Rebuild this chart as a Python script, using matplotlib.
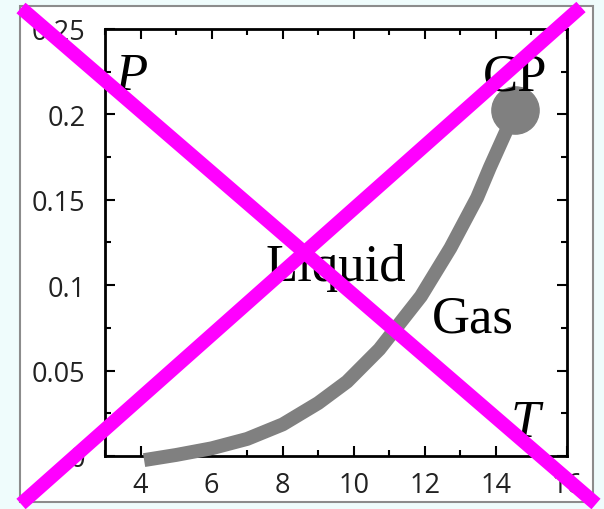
import matplotlib.pyplot as plt
from matplotlib.patches import Rectangle
from matplotlib.lines import Line2D
from matplotlib.ticker import MultipleLocator

# coexistence curve (temperature, pressure) ending at the critical point
temps = [4.1, 5.0, 6.0, 7.0, 8.0, 9.0, 9.81, 10.72, 11.89, 12.72, 13.47,
         13.83, 14.31, 14.53]
pressures = [-0.0024, 0.0006, 0.0045, 0.0100, 0.0185, 0.0310, 0.0435, 0.0625,
             0.0935, 0.1218, 0.1512, 0.1690, 0.1912, 0.2024]
cp = (14.53, 0.2024)

x_ticks = [4, 6, 8, 10, 12, 14, 16]
y_ticks = [0, 0.05, 0.1, 0.15, 0.2, 0.25]
y_labels = ['0', '0.05', '0.1', '0.15', '0.2', '0.25']

fig = plt.figure(figsize=(6.04, 5.10), dpi=100, facecolor='#effcfc')

# white panel with a grey frame, kept behind the axes
fig.patches.append(Rectangle((20 / 604, 1 - 503 / 510), 573 / 604, 496 / 510,
                             transform=fig.transFigure, facecolor='white',
                             edgecolor='#8c8c8c', linewidth=1.5, zorder=-5))

ax = fig.add_axes([105 / 604, 1 - 457 / 510, 462 / 604, 427 / 510])
ax.set_xlim(3, 16)
ax.set_ylim(0, 0.25)
ax.patch.set_alpha(0)

ax.plot(temps, pressures, color='#808080', lw=10, solid_capstyle='butt',
        solid_joinstyle='round', clip_on=False, zorder=3)
ax.plot([cp[0]], [cp[1]], 'o', color='#808080', markersize=34, zorder=4,
        clip_on=False)

ax.set_xticks(x_ticks)
ax.set_yticks(y_ticks)
ax.set_yticklabels(y_labels)
ax.xaxis.set_minor_locator(MultipleLocator(1))
ax.yaxis.set_minor_locator(MultipleLocator(0.025))
for side in ax.spines.values():
    side.set_linewidth(2)
ax.tick_params(which='both', direction='in', top=True, right=True,
               width=1.5, labelsize=19.5, labelcolor='#222222')
ax.tick_params(which='major', length=7)
ax.tick_params(which='minor', length=4)
ax.tick_params(axis='y', pad=14)
ax.tick_params(axis='x', pad=11)
for lab in ax.get_xticklabels() + ax.get_yticklabels():
    lab.set_family('Open Sans')

serif = 'Liberation Serif'
ax.text(3.75, 0.2147, 'P', fontsize=38, family=serif, style='italic',
        ha='center', va='baseline')
ax.text(14.55, 0.2147, 'CP', fontsize=38, family=serif, ha='center',
        va='baseline', zorder=5)
ax.text(9.5, 0.103, 'Liquid', fontsize=38, family=serif, ha='center',
        va='baseline')
ax.text(13.35, 0.073, 'Gas', fontsize=38, family=serif, ha='center',
        va='baseline')
ax.text(14.83, 0.0118, 'T', fontsize=38, family=serif, style='italic',
        ha='center', va='baseline')

# cross drawn over the whole panel
for (x0, y0), (x1, y1) in [((21, 9), (596, 505)), ((581, 8), (21, 505))]:
    fig.lines.append(Line2D([x0 / 604, x1 / 604], [1 - y0 / 510, 1 - y1 / 510],
                            transform=fig.transFigure, color='#ff00ff',
                            lw=10, solid_capstyle='butt', zorder=10))

fig.savefig('out.png', dpi=100, facecolor=fig.get_facecolor())
